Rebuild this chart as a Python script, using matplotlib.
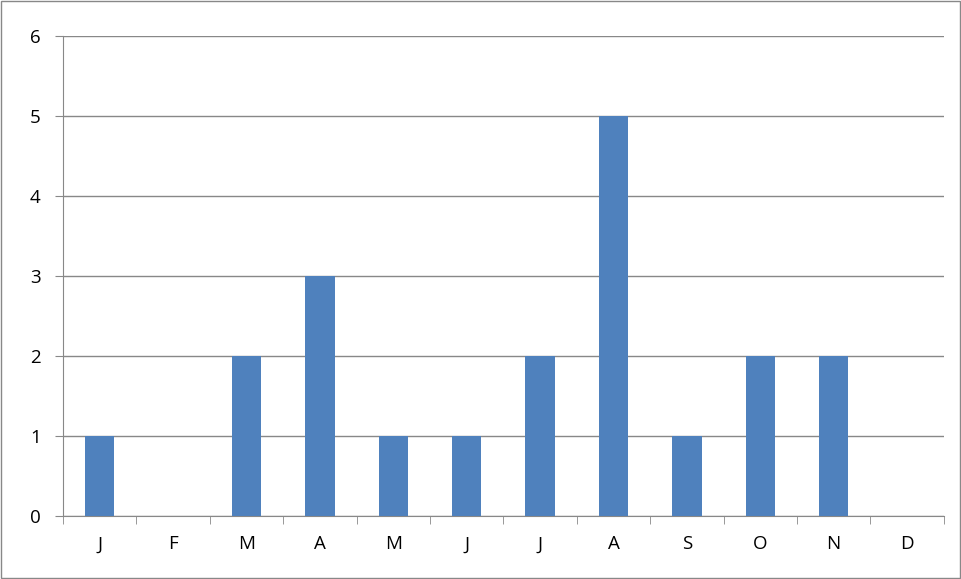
import matplotlib.pyplot as plt
import numpy as np

months = ["J", "F", "M", "A", "M", "J", "J", "A", "S", "O", "N", "D"]
counts = [1, 0, 2, 3, 1, 1, 2, 5, 1, 2, 2, 0]

fig = plt.figure(figsize=(9.62, 5.79), dpi=100)
ax = fig.add_axes([0.0655, 0.1088, 0.9155, 0.829])
fig.patches.append(plt.Rectangle((0.001, 0.001), 0.997, 0.997, transform=fig.transFigure,
                                 fill=False, edgecolor="#888888", linewidth=1))

x = np.arange(len(months))
ax.bar(x, counts, width=0.4, color="#4F81BD", zorder=3)

ax.set_xlim(-0.5, len(months) - 0.5)
ax.set_ylim(0, 6)
ax.set_yticks(range(7))
ax.yaxis.grid(True, color="#888888", linewidth=1)
ax.set_axisbelow(True)

ax.set_xticks(x)
ax.set_xticklabels(months, fontsize=13.5, family="Open Sans")
ax.set_xticks(np.arange(-0.5, len(months)), minor=True)
ax.tick_params(axis="x", which="major", length=0, pad=14)
ax.tick_params(axis="x", which="minor", length=6, color="#888888")
ax.tick_params(axis="y", length=6, color="#888888", labelsize=13.5, pad=10)
for lab in ax.get_yticklabels():
    lab.set_family("Open Sans")

for side in ["top", "right"]:
    ax.spines[side].set_visible(False)
for side in ["left", "bottom"]:
    ax.spines[side].set_color("#888888")

fig.savefig("out.png", dpi=100)
